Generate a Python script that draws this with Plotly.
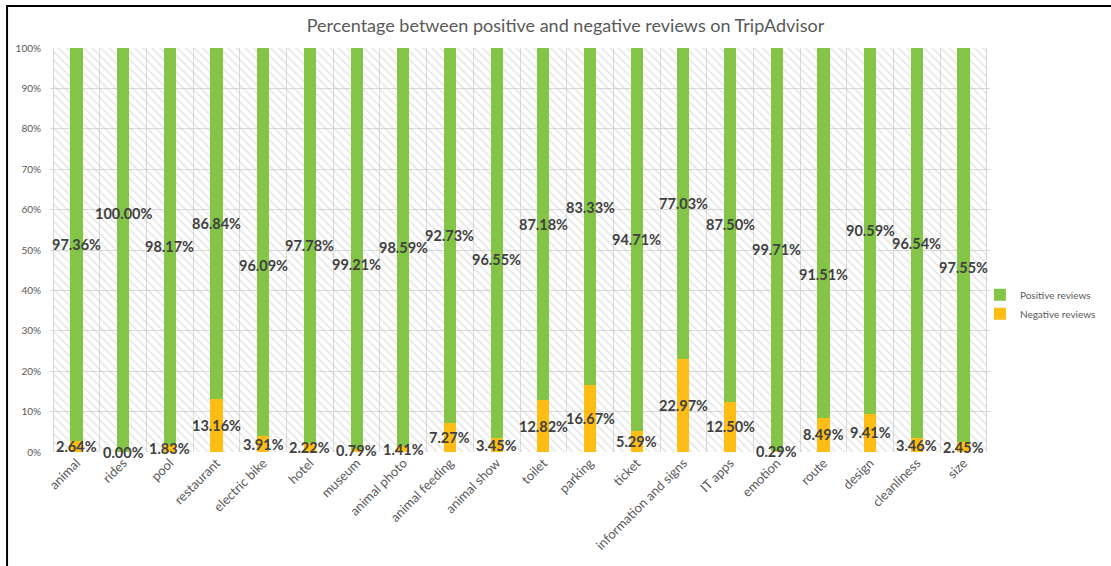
import plotly.graph_objects as go

categories = ["animal", "rides", "pool", "restaurant", "electric bike", "hotel", "museum",
              "animal photo", "animal feeding", "animal show", "toilet", "parking", "ticket",
              "information and signs", "IT apps", "emotion", "route", "design", "cleanliness", "size"]
positive = [97.36, 100.00, 98.17, 86.84, 96.09, 97.78, 99.21, 98.59, 92.73, 96.55,
            87.18, 83.33, 94.71, 77.03, 87.50, 99.71, 91.51, 90.59, 96.54, 97.55]
negative = [2.64, 0.00, 1.83, 13.16, 3.91, 2.22, 0.79, 1.41, 7.27, 3.45,
            12.82, 16.67, 5.29, 22.97, 12.50, 0.29, 8.49, 9.41, 3.46, 2.45]

GREEN = "#84c447"
GOLD = "#fdbd14"
GREY_TEXT = "#595959"
LABEL_TEXT = "#404040"
FONT = "Lato"

# labels that were nudged vertically (pixels, positive = up) to avoid crowding
label_nudge = {"rides": 37, "electric bike": -23, "museum": -16, "animal show": -16,
               "parking": 9, "route": -42, "size": -22}

fig = go.Figure()

# hatched plot background, one full-width band per category
fig.add_trace(go.Bar(
    x=categories, y=[100] * len(categories), width=1,
    marker=dict(color="rgba(0,0,0,0)", line=dict(width=0),
                pattern=dict(shape="\\", fgcolor="#c4c4c4", size=6, solidity=0.22,
                             fillmode="overlay")),
    showlegend=False, hoverinfo="skip",
))

fig.add_trace(go.Bar(
    x=categories, y=negative, width=0.26, name="Negative reviews",
    marker=dict(color=GOLD, line=dict(width=0)), legendrank=2,
))
fig.add_trace(go.Bar(
    x=categories, y=positive, base=negative, width=0.26, name="Positive reviews",
    marker=dict(color=GREEN, line=dict(width=0)), legendrank=1,
))

annotations = []
for cat, pos, neg in zip(categories, positive, negative):
    annotations.append(dict(
        x=cat, y=neg + pos / 2, text=f"{pos:.2f}%", showarrow=False,
        yshift=label_nudge.get(cat, 0),
        font=dict(family=FONT, size=14.5, color=LABEL_TEXT, weight="bold"),
    ))
    annotations.append(dict(
        x=cat, y=neg / 2, text=f"{neg:.2f}%", showarrow=False,
        font=dict(family=FONT, size=14.5, color=LABEL_TEXT, weight="bold"),
    ))

fig.update_layout(
    width=1111, height=566,
    margin=dict(l=50, r=121, t=48, b=114, autoexpand=False),
    paper_bgcolor="white", plot_bgcolor="white",
    barmode="overlay", bargap=0,
    title=dict(text="Percentage between positive and negative reviews on TripAdvisor",
               x=0.509, xref="container", xanchor="center", y=0.955, yanchor="middle",
               font=dict(family=FONT, size=18, color=GREY_TEXT)),
    font=dict(family=FONT, color=GREY_TEXT),
    legend=dict(xref="container", yref="container", x=0.882, y=0.505,
                xanchor="left", yanchor="top",
                font=dict(family=FONT, size=10, color=GREY_TEXT),
                bgcolor="rgba(0,0,0,0)", itemwidth=30),
    annotations=annotations,
    shapes=[dict(type="rect", xref="paper", yref="paper",
                 x0=-0.0457, x1=1.3, y0=-0.4, y1=1.104,
                 line=dict(color="black", width=2), layer="above")],
)

fig.update_xaxes(
    type="category", tickson="boundaries", showgrid=True, gridcolor="#d9d9d9", gridwidth=1,
    ticks="", tickangle=-45, tickfont=dict(family=FONT, size=13, color=GREY_TEXT),
    showline=False, zeroline=False,
)
fig.update_yaxes(
    range=[0, 100], dtick=10, ticksuffix="%", showgrid=True, gridcolor="#d9d9d9",
    gridwidth=1, zeroline=False, ticks="", ticklabelstandoff=8,
    tickfont=dict(family=FONT, size=10, color=GREY_TEXT),
)

fig.write_html("out.html")
